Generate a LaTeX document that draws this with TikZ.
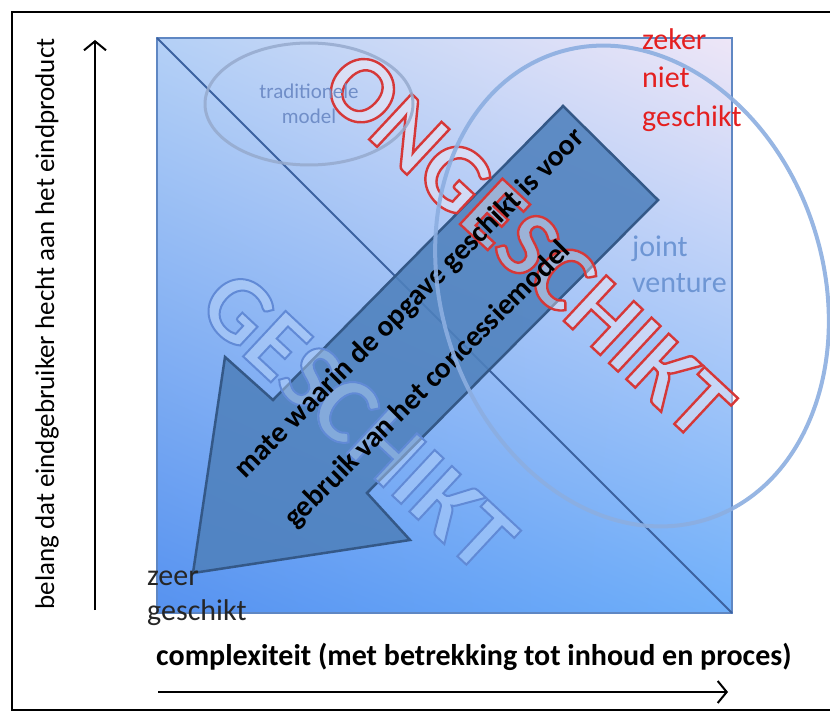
\documentclass[tikz,border=0pt]{standalone}
\usepackage{fontspec}
\setmainfont{Carlito}
\usetikzlibrary{shapes.geometric,arrows.meta,shadings}
\definecolor{sqLL}{RGB}{86,146,240}
\definecolor{sqLR}{RGB}{112,176,250}
\definecolor{sqUL}{RGB}{180,208,246}
\definecolor{sqUR}{RGB}{238,230,247}
\definecolor{sqline}{RGB}{95,135,195}
\definecolor{diagcol}{RGB}{60,98,160}
\definecolor{arrfill}{RGB}{79,129,189}
\definecolor{arrline}{RGB}{52,88,135}
\definecolor{jvcol}{RGB}{140,174,224}
\definecolor{tradcol}{RGB}{150,170,205}
\definecolor{tradtxt}{RGB}{112,142,200}
\definecolor{redtxt}{RGB}{228,32,32}
\definecolor{jvtxt}{RGB}{110,150,212}
\definecolor{onfill}{RGB}{255,240,244}
\definecolor{gefill}{RGB}{190,215,250}
\newcommand{\myfs}[2]{\fontsize{#1}{#2}\selectfont}
\newcommand{\strokedtext}[3]{\special{pdf:literal direct 1 Tr #1 w #2 RG}#3\special{pdf:literal direct 0 Tr}}
\begin{document}
\begin{tikzpicture}[x=1pt,y=-1pt,
  frame/.style={draw=black,line width=2},
  sqborder/.style={draw=sqline,line width=1.2},
  diag/.style={draw=diagcol,line width=2},
  bigarrow/.style={fill=arrfill,fill opacity=0.88,draw=arrline,line width=2.5,line join=miter},
  arrowtxt/.style={font=\bfseries\myfs{29.5}{35},text=black,inner sep=0},
  bigletters/.style={font=\bfseries\myfs{96}{104},inner sep=0,rotate=-43},
  label/.style={font=\myfs{30}{36},inner sep=0,anchor=base west},
  axistxt/.style={font=\myfs{27}{33},text=black,inner sep=0},
  axisarrow/.style={draw=black,line width=2,-{Straight Barb[length=9pt,width=22pt]}}]
\useasboundingbox (0,0) rectangle (830,719);
% outer frame (its right side lies beyond the picture)
\draw[frame] (12,12) rectangle (845,710);
% square with gradient
\coordinate (sqNW) at (157,38);
\coordinate (sqSE) at (732,613);
\shade[lower left=sqLL,lower right=sqLR,upper left=sqUL,upper right=sqUR] (sqNW) rectangle (sqSE);
\draw[sqborder] (sqNW) rectangle (sqSE);
\draw[diag] (sqNW) -- (sqSE);
% big arrow
\coordinate (a1) at (563,106);
\coordinate (a2) at (658,200);
\coordinate (a3) at (367,493);
\coordinate (a4) at (410,540);
\coordinate (a5) at (193,573);
\coordinate (a6) at (225,357);
\coordinate (a7) at (273,400);
\filldraw[bigarrow] (a1) -- (a2) -- (a3) -- (a4) -- (a5) -- (a6) -- (a7) -- cycle;
% outlined big words: light fill, then outline
\node[bigletters,text=gefill,text opacity=0.45] (geschF) at (358,421) {GESCHIKT};
\node[bigletters] (gesch) at (358,421) {\strokedtext{2}{0.38 0.54 0.84}{GESCHIKT}};
\node[bigletters,text=onfill,text opacity=0.4] (ongeschF) at (528,245) {ONGESCHIKT};
\node[bigletters] (ongesch) at (528,245) {\strokedtext{2.4}{0.84 0.22 0.22}{ONGESCHIKT}};
% arrow text
\node[arrowtxt,rotate=45] (t1) at (410,304) {mate waarin de opgave geschikt is voor};
\node[arrowtxt,rotate=45] (t2) at (428,385) {gebruik van het concessiemodel};
% ellipses
\node[ellipse,draw=tradcol,draw opacity=0.85,line width=3,minimum width=208,minimum height=122,inner sep=0,
  align=center,text=tradtxt,font=\myfs{21}{25}] (trad) at (309,104) {traditionele\\model};
\node[ellipse,draw=jvcol,draw opacity=0.9,line width=4,minimum width=382,minimum height=490,inner sep=0,rotate=18] (jv) at (632,286) {};
% labels
\node[label,text=redtxt] (zk1) at (642,50) {zeker};
\node[label,text=redtxt] (zk2) at (642,88) {niet};
\node[label,text=redtxt] (zk3) at (642,127) {geschikt};
\node[label,text=jvtxt] (jv1) at (632,257) {joint};
\node[label,text=jvtxt] (jv2) at (632,293) {venture};
\node[label,text=black!85] (zg1) at (147,585) {zeer};
\node[label,text=black!85] (zg2) at (147,620) {geschikt};
% axes
\node[axistxt,rotate=90,anchor=base] (ylab) at (54,324) {belang dat eindgebruiker hecht aan het eindproduct};
\coordinate (yS) at (95,610);
\coordinate (yE) at (95,40);
\draw[axisarrow] (yS) -- (yE);
\node[axistxt,font=\bfseries\myfs{30}{36},anchor=base west] (xlab) at (156,665) {complexiteit (met betrekking tot inhoud en proces)};
\coordinate (xS) at (158,692);
\coordinate (xE) at (728,692);
\draw[axisarrow] (xS) -- (xE);
\end{tikzpicture}
\end{document}
